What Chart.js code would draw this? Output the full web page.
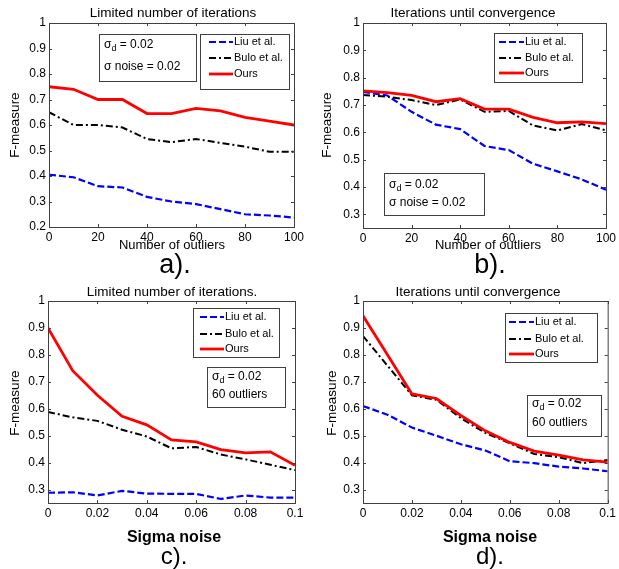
<!DOCTYPE html>
<html>
<head>
<meta charset="utf-8">
<script src="https://cdn.jsdelivr.net/npm/chart.js@4.4.1/dist/chart.umd.min.js"></script>
<style>
  body { margin: 0; background: #fff; width: 619px; height: 569px; position: relative; overflow: hidden; }
  canvas { position: absolute; left: 0; top: 0; }
</style>
</head>
<body>
<canvas id="chartA" width="619" height="569"></canvas>
<canvas id="chartB" width="619" height="569"></canvas>
<canvas id="chartC" width="619" height="569"></canvas>
<canvas id="chartD" width="619" height="569"></canvas>
<script>
// x values
const outliers = [0, 10, 20, 30, 40, 50, 60, 70, 80, 90, 100];
const sigmaNoise = [0, 0.01, 0.02, 0.03, 0.04, 0.05, 0.06, 0.07, 0.08, 0.09, 0.1];

// a) limited iterations, vs outliers
const liuA  = [0.405, 0.395, 0.36, 0.355, 0.318, 0.30, 0.29, 0.27, 0.25, 0.245, 0.237];
const buloA = [0.65, 0.60, 0.60, 0.59, 0.545, 0.533, 0.545, 0.53, 0.515, 0.495, 0.495];
const oursA = [0.75, 0.74, 0.70, 0.70, 0.645, 0.645, 0.665, 0.655, 0.63, 0.615, 0.60];

// b) until convergence, vs outliers
const liuB  = [0.748, 0.735, 0.675, 0.628, 0.612, 0.55, 0.535, 0.485, 0.457, 0.428, 0.39];
const buloB = [0.737, 0.73, 0.718, 0.70, 0.72, 0.675, 0.678, 0.625, 0.607, 0.63, 0.607];
const oursB = [0.752, 0.745, 0.735, 0.712, 0.723, 0.685, 0.685, 0.655, 0.635, 0.638, 0.632];

// c) limited iterations, vs sigma noise
const liuC  = [0.288, 0.29, 0.278, 0.295, 0.285, 0.284, 0.284, 0.265, 0.278, 0.27, 0.27];
const buloC = [0.588, 0.568, 0.555, 0.522, 0.497, 0.453, 0.458, 0.43, 0.412, 0.392, 0.372];
const oursC = [0.9, 0.741, 0.65, 0.572, 0.54, 0.484, 0.477, 0.448, 0.436, 0.44, 0.39];

// d) until convergence, vs sigma noise
const liuD  = [0.61, 0.578, 0.53, 0.50, 0.468, 0.445, 0.405, 0.398, 0.385, 0.378, 0.368];
const buloD = [0.87, 0.76, 0.65, 0.633, 0.565, 0.51, 0.472, 0.432, 0.42, 0.398, 0.41];
const oursD = [0.945, 0.80, 0.655, 0.638, 0.575, 0.518, 0.475, 0.443, 0.428, 0.41, 0.402];

// tick labels
const xTicksOutliers = [0, 20, 40, 60, 80, 100];
const xTicksSigma = [0, 0.02, 0.04, 0.06, 0.08, 0.1];
const yTicksA = [0.2, 0.3, 0.4, 0.5, 0.6, 0.7, 0.8, 0.9, 1];
const yTicksRest = [0.3, 0.4, 0.5, 0.6, 0.7, 0.8, 0.9, 1];

const FONT = '"Liberation Sans", Arial, Helvetica, sans-serif';
const FRAME = '#404040';

function fmt(v) {
    return String(Math.round(v * 1000) / 1000);
}

function makeDatasets(xs, liu, bulo, ours) {
    const pts = arr => arr.map((y, i) => ({ x: xs[i], y: y }));
    return [
        { label: 'Liu et al.', data: pts(liu), borderColor: '#0000ff', borderWidth: 2.2, borderDash: [7, 3], order: 2 },
        { label: 'Bulo et al.', data: pts(bulo), borderColor: '#000000', borderWidth: 2, borderDash: [7, 3, 2, 3], order: 1 },
        { label: 'Ours', data: pts(ours), borderColor: '#ff0000', borderWidth: 2.8, order: 0 }
    ];
}

function drawSub(ctx, text, x, y, size) {
    // "σ_d = 0.02" -> sigma with subscript d
    const k = text.indexOf('_');
    if (k < 0) { ctx.fillText(text, x, y); return; }
    const pre = text.slice(0, k), sub = text.charAt(k + 1), post = text.slice(k + 2);
    ctx.fillText(pre, x, y);
    let w = ctx.measureText(pre).width;
    ctx.font = (size - 3) + 'px ' + FONT;
    ctx.fillText(sub, x + w, y + 4);
    w += ctx.measureText(sub).width;
    ctx.font = size + 'px ' + FONT;
    ctx.fillText(post, x + w, y);
}

const figurePlugin = {
    id: 'figure',
    afterDraw(chart, args, o) {
        const ctx = chart.ctx;
        const a = chart.chartArea;
        const xs = chart.scales.x, ys = chart.scales.y;
        ctx.save();

        // box + inward ticks
        ctx.strokeStyle = FRAME;
        ctx.lineWidth = 1;
        ctx.strokeRect(a.left + 0.5, a.top + 0.5, a.right - a.left, a.bottom - a.top);
        ctx.beginPath();
        xs.ticks.forEach(t => {
            const px = Math.round(xs.getPixelForValue(t.value)) + 0.5;
            ctx.moveTo(px, a.bottom); ctx.lineTo(px, a.bottom - 3);
            ctx.moveTo(px, a.top); ctx.lineTo(px, a.top + 3);
        });
        ys.ticks.forEach(t => {
            const py = Math.round(ys.getPixelForValue(t.value)) + 0.5;
            ctx.moveTo(a.left, py); ctx.lineTo(a.left + 3, py);
            ctx.moveTo(a.right, py); ctx.lineTo(a.right - 3, py);
        });
        ctx.stroke();

        ctx.fillStyle = '#000';
        ctx.textBaseline = 'middle';
        ctx.textAlign = 'center';

        // title, axis labels, caption
        ctx.font = '13.5px ' + FONT;
        ctx.fillText(o.title, o.titlePos[0], o.titlePos[1]);
        ctx.font = o.xLabelFont + ' ' + FONT;
        ctx.fillText(o.xLabel, o.xLabelPos[0], o.xLabelPos[1]);
        ctx.font = o.captionFont + ' ' + FONT;
        ctx.fillText(o.caption, o.captionPos[0], o.captionPos[1]);
        ctx.save();
        ctx.translate(o.yLabelPos[0], o.yLabelPos[1]);
        ctx.rotate(-Math.PI / 2);
        ctx.font = '13.5px ' + FONT;
        ctx.fillText('F-measure', 0, 0);
        ctx.restore();

        // legend box
        const L = o.legend;
        ctx.fillStyle = '#fff';
        ctx.fillRect(L.box[0], L.box[1], L.box[2] - L.box[0], L.box[3] - L.box[1]);
        ctx.strokeStyle = FRAME;
        ctx.lineWidth = 1;
        ctx.strokeRect(L.box[0] + 0.5, L.box[1] + 0.5, L.box[2] - L.box[0], L.box[3] - L.box[1]);
        ctx.textAlign = 'left';
        ctx.font = '11px ' + FONT;
        chart.data.datasets.forEach((ds, i) => {
            const y = L.rows[i];
            ctx.save();
            ctx.strokeStyle = ds.borderColor;
            ctx.lineWidth = ds.borderWidth;
            ctx.setLineDash(ds.borderDash || []);
            ctx.beginPath();
            ctx.moveTo(L.line[0], y);
            ctx.lineTo(L.line[1], y);
            ctx.stroke();
            ctx.restore();
            ctx.fillStyle = '#000';
            ctx.fillText(ds.label, L.line[1] + 1, y);
        });

        // parameter note
        const N = o.note;
        ctx.fillStyle = '#fff';
        ctx.fillRect(N.box[0], N.box[1], N.box[2] - N.box[0], N.box[3] - N.box[1]);
        ctx.strokeRect(N.box[0] + 0.5, N.box[1] + 0.5, N.box[2] - N.box[0], N.box[3] - N.box[1]);
        ctx.fillStyle = '#000';
        N.lines.forEach((t, i) => {
            ctx.font = '12px ' + FONT;
            drawSub(ctx, t, N.box[0] + 5, N.rows[i], 12);
        });

        ctx.restore();
    }
};

function makeChart(id, area, xs, xTicks, xMax, yTicks, yMin, datasets, fig) {
    const tickFont = { family: FONT, size: 12 };
    return new Chart(document.getElementById(id), {
        type: 'line',
        data: { datasets: datasets },
        options: {
            responsive: false,
            animation: false,
            events: [],
            layout: { padding: { left: 0, top: area.top, right: 619 - area.right, bottom: 0 } },
            elements: { point: { radius: 0 }, line: { tension: 0, fill: false } },
            plugins: { legend: { display: false }, tooltip: { enabled: false }, figure: fig },
            scales: {
                x: {
                    type: 'linear', min: 0, max: xMax,
                    grid: { display: false, drawTicks: false }, border: { display: false },
                    ticks: { color: '#000', font: tickFont, padding: 3, maxRotation: 0, callback: fmt },
                    afterBuildTicks: s => { s.ticks = xTicks.map(v => ({ value: v })); },
                    afterFit: s => { s.height = 569 - area.bottom; }
                },
                y: {
                    type: 'linear', min: yMin, max: 1,
                    grid: { display: false, drawTicks: false }, border: { display: false },
                    ticks: { color: '#000', font: tickFont, padding: 3, callback: fmt },
                    afterBuildTicks: s => { s.ticks = yTicks.map(v => ({ value: v })); },
                    afterFit: s => { s.width = area.left; }
                }
            }
        },
        plugins: [figurePlugin]
    });
}

makeChart('chartA', { left: 49, top: 23, right: 294, bottom: 227 },
    outliers, xTicksOutliers, 100, yTicksA, 0.2,
    makeDatasets(outliers, liuA, buloA, oursA), {
        title: 'Limited number of iterations', titlePos: [173, 13],
        xLabel: 'Number of outliers', xLabelFont: '13px', xLabelPos: [172, 245],
        caption: 'a).', captionFont: '27px', captionPos: [175, 266],
        yLabelPos: [15, 125],
        legend: { box: [200, 34, 289, 89], rows: [42, 58, 74], line: [209, 233] },
        note: { box: [99, 34, 196, 81], rows: [45, 67], lines: ['σ_d = 0.02', 'σ noise = 0.02'] }
    });

makeChart('chartB', { left: 363, top: 23, right: 610, bottom: 228 },
    outliers, xTicksOutliers, 100, yTicksRest, 0.25,
    makeDatasets(outliers, liuB, buloB, oursB), {
        title: 'Iterations until convergence', titlePos: [473, 13],
        xLabel: 'Number of outliers', xLabelFont: '13px', xLabelPos: [488, 245],
        caption: 'b).', captionFont: '27px', captionPos: [490, 266],
        yLabelPos: [327, 125],
        legend: { box: [494, 33, 582, 82], rows: [42, 58, 73], line: [499, 524] },
        note: { box: [384, 173, 484, 215], rows: [185, 203], lines: ['σ_d = 0.02', 'σ noise = 0.02'] }
    });

makeChart('chartC', { left: 48, top: 301, right: 295, bottom: 503 },
    sigmaNoise, xTicksSigma, 0.1, yTicksRest, 0.25,
    makeDatasets(sigmaNoise, liuC, buloC, oursC), {
        title: 'Limited number of iterations.', titlePos: [172, 292],
        xLabel: 'Sigma noise', xLabelFont: 'bold 16px', xLabelPos: [174, 538],
        caption: 'c).', captionFont: '24px', captionPos: [174, 557],
        yLabelPos: [15, 403],
        legend: { box: [193, 308, 279, 357], rows: [317, 334, 349], line: [200, 224] },
        note: { box: [207, 367, 285, 407], rows: [377, 395], lines: ['σ_d = 0.02', '60 outliers'] }
    });

makeChart('chartD', { left: 363, top: 301, right: 610, bottom: 503 },
    sigmaNoise, xTicksSigma, 0.1, yTicksRest, 0.25,
    makeDatasets(sigmaNoise, liuD, buloD, oursD), {
        title: 'Iterations until convergence', titlePos: [478, 292],
        xLabel: 'Sigma noise', xLabelFont: 'bold 16px', xLabelPos: [490, 538],
        caption: 'd).', captionFont: '24px', captionPos: [490, 557],
        yLabelPos: [332, 403],
        legend: { box: [505, 313, 597, 362], rows: [322, 339, 354], line: [509, 534] },
        note: { box: [527, 395, 601, 436], rows: [404, 423], lines: ['σ_d = 0.02', '60 outliers'] }
    });
</script>
</body>
</html>
